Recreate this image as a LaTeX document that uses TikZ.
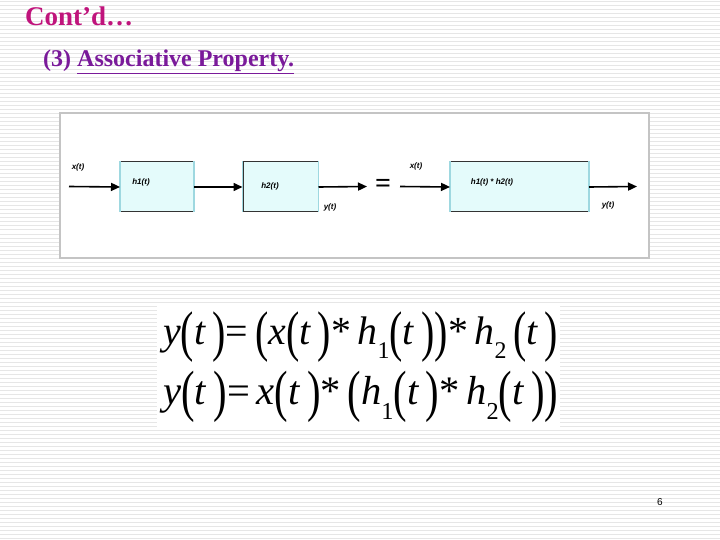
\documentclass[tikz,border=0pt]{standalone}
\usepackage{fontspec}
\setmainfont{Liberation Serif}
\newfontfamily\lblfont{Liberation Sans}
\usepackage{graphicx}
\usetikzlibrary{arrows.meta}
\definecolor{titlecol}{HTML}{C0147C}
\definecolor{subcol}{HTML}{7A1A9A}
\definecolor{stripe}{HTML}{E6E6E6}
\definecolor{panelborder}{HTML}{C4C4C4}
\definecolor{boxfill}{HTML}{E4FBFB}
\definecolor{boxside}{HTML}{9ED8E0}
\newcommand{\tallp}[1]{\raisebox{-0.14em}{\scalebox{1}[1.4]{#1}}}
\newcommand{\lowsub}[1]{\raisebox{-0.35em}{\fontsize{24}{24}\selectfont #1}}
\tikzset{
  x=1pt, y=-1pt,
  blk/.style={draw=black!80, line width=1pt, fill=boxfill, inner sep=0pt, anchor=north west},
  lbl/.style={font=\lblfont\bfseries\itshape\fontsize{8}{9}\selectfont, inner sep=0pt},
  sig/.style={line width=1.6pt, -{Triangle[length=9pt,width=8pt]}},
  eq/.style={inner sep=0pt, anchor=west}
}
\begin{document}
\begin{tikzpicture}
\useasboundingbox (0,0) rectangle (720,540);
\fill[white] (0,0) rectangle (720,540);
\foreach \k in {0,...,134} {
  \draw[stripe, line width=1pt] (0,{2+4*\k}) -- (720,{2+4*\k});
}
% title
\node[font=\bfseries\fontsize{27}{29}\selectfont, text=titlecol, anchor=west, inner sep=0pt] (title) at (25,16) {Cont’d…};
\node[font=\bfseries\fontsize{24}{26}\selectfont, text=subcol, anchor=west, inner sep=0pt] (sub) at (43,62) {(3) \underline{Associative Property.}};
% panel
\draw[panelborder, line width=2.5pt, fill=white] (60,113) rectangle (649,258);
% boxes
\node[blk, minimum width=73pt, minimum height=50pt] (b1) at (120,161.5) {};
\node[blk, minimum width=75pt, minimum height=50pt] (b2) at (242.5,161.5) {};
\node[blk, minimum width=138pt, minimum height=50pt] (b3) at (450,161.5) {};
\foreach \b in {b1,b2,b3} {
  \draw[boxside, line width=1.2pt] (\b.north west) -- (\b.south west);
  \draw[boxside, line width=1.2pt] (\b.north east) -- (\b.south east);
}
\coordinate (in1) at (69,186.5);
\coordinate (out2) at (367,186.5);
\coordinate (in3) at (400,186.5);
\coordinate (out3) at (637,186.5);
\draw[sig] (in1) -- (b1.west);
\draw[sig] (b1.east) -- (b2.west);
\draw[sig] (b2.east) -- (out2);
\draw[sig] (in3) -- (b3.west);
\draw[sig] (b3.east) -- (out3);
\node[font=\bfseries\fontsize{28}{28}\selectfont, inner sep=0pt] (eqs) at (383,186) {=};
% labels
\node[lbl] (lx1) at (78,167) {x(t)};
\node[lbl] (lh1) at (141,182) {h1(t)};
\node[lbl] (lh2) at (270,186) {h2(t)};
\node[lbl] (ly1) at (330,207) {y(t)};
\node[lbl] (lx2) at (416,166) {x(t)};
\node[lbl] (lh3) at (492,182) {h1(t) * h2(t)};
\node[lbl] (ly2) at (608,205) {y(t)};
% equations
\fill[white] (157,305) rectangle (560,428);
\node[eq] (eq1) at (163,337) {\resizebox{395pt}{!}{\fontsize{40}{44}\selectfont
  \textit{y}\tallp{(}\textit{t}\,\tallp{)}=\,\tallp{(}\textit{x}\tallp{(}\textit{t}\,\tallp{)}*\,\textit{h}\lowsub{1}\tallp{(}\textit{t}\,\tallp{)}\tallp{)}*\,\textit{h}\lowsub{2}\,\tallp{(}\textit{t}\,\tallp{)}}};
\node[eq] (eq2) at (163,397) {\resizebox{395pt}{!}{\fontsize{40}{44}\selectfont
  \textit{y}\tallp{(}\textit{t}\,\tallp{)}=\,\textit{x}\tallp{(}\textit{t}\,\tallp{)}*\,\tallp{(}\textit{h}\lowsub{1}\tallp{(}\textit{t}\,\tallp{)}*\,\textit{h}\lowsub{2}\tallp{(}\textit{t}\,\tallp{)}\tallp{)}}};
% page number
\node[font=\lblfont\fontsize{10}{12}\selectfont, inner sep=0pt] (pg) at (660,502) {6};
\end{tikzpicture}
\end{document}
